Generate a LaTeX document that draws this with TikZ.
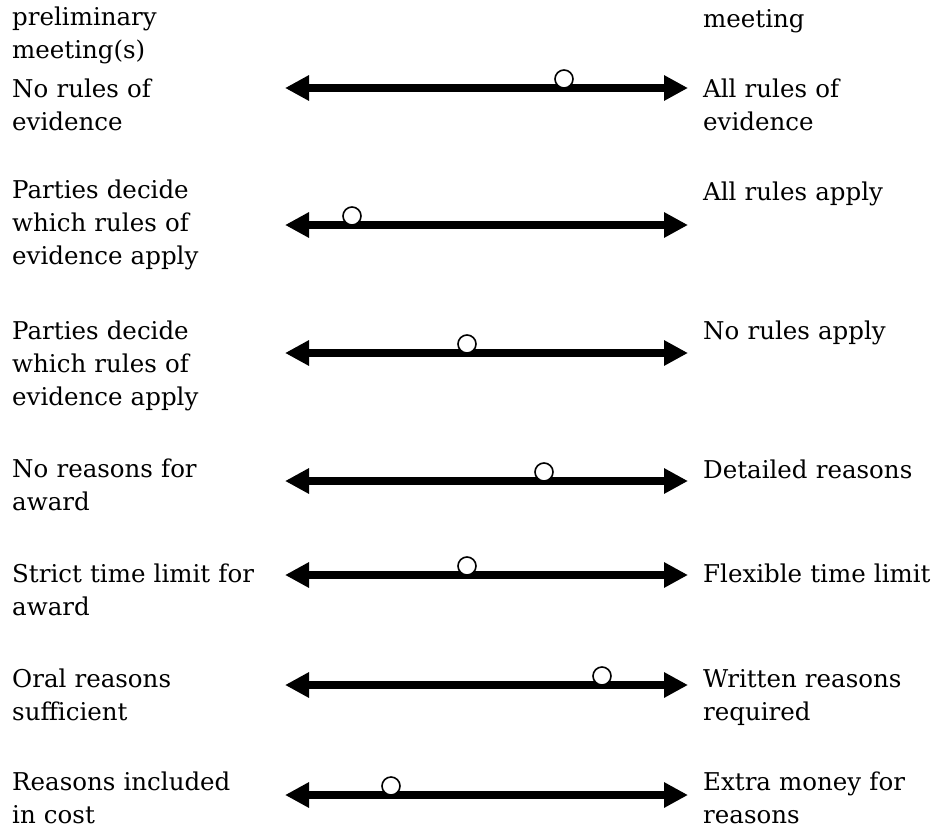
\documentclass[tikz,border=0pt]{standalone}
\usepackage{fontspec}
\setmainfont{DejaVu Serif}
\usetikzlibrary{arrows.meta}
\tikzset{axis/.style={line width=7.5pt, {Triangle[length=24pt,width=24pt]}-{Triangle[length=24pt,width=24pt]}},
    pick/.style={circle, draw, fill=white, line width=1.6pt, minimum size=18pt, inner sep=0pt},
    lefttext/.style={anchor=base west, text width=280pt, align=left, inner sep=0pt,
        font=\fontsize{24.5}{33}\selectfont},
    righttext/.style={lefttext, text width=236pt}}

\begin{document}
\begin{tikzpicture}[x=1pt, y=-1pt]
    \useasboundingbox (0,0) rectangle (939,830);
    % one scale per row: number / height of the bar / place of the mark
    \foreach \n/\y/\m in {1/88/564, 2/225/352, 3/353/467, 4/481/544, 5/575/467, 6/685/602, 7/795/391} {
        \coordinate (from\n) at (285,\y);
        \coordinate (to\n) at (688,\y);
        \draw[axis] (from\n) -- (to\n);
        \node[pick] (pick\n) at (\m,\y-9) {};
    }
    \node[lefttext] (pre) at (12,25) {preliminary\\meeting(s)};
    \node[righttext] (post) at (703,27) {meeting};
    \node[lefttext] (lo1) at (12,97) {No rules of\\evidence};
    \node[righttext] (hi1) at (703,97) {All rules of\\evidence};
    \node[lefttext] (lo2) at (12,198) {Parties decide\\which rules of\\evidence apply};
    \node[righttext] (hi2) at (703,200) {All rules apply};
    \node[lefttext] (lo3) at (12,339) {Parties decide\\which rules of\\evidence apply};
    \node[righttext] (hi3) at (703,339) {No rules apply};
    \node[lefttext] (lo4) at (12,477) {No reasons for\\award};
    \node[righttext] (hi4) at (703,478) {Detailed reasons};
    \node[lefttext] (lo5) at (12,582) {Strict time limit for\\award};
    \node[righttext] (hi5) at (703,582) {Flexible time limit};
    \node[lefttext] (lo6) at (12,687) {Oral reasons\\sufficient};
    \node[righttext] (hi6) at (703,687) {Written reasons\\required};
    \node[lefttext] (lo7) at (12,790) {Reasons included\\in cost};
    \node[righttext] (hi7) at (703,790) {Extra money for\\reasons};
\end{tikzpicture}
\end{document}
